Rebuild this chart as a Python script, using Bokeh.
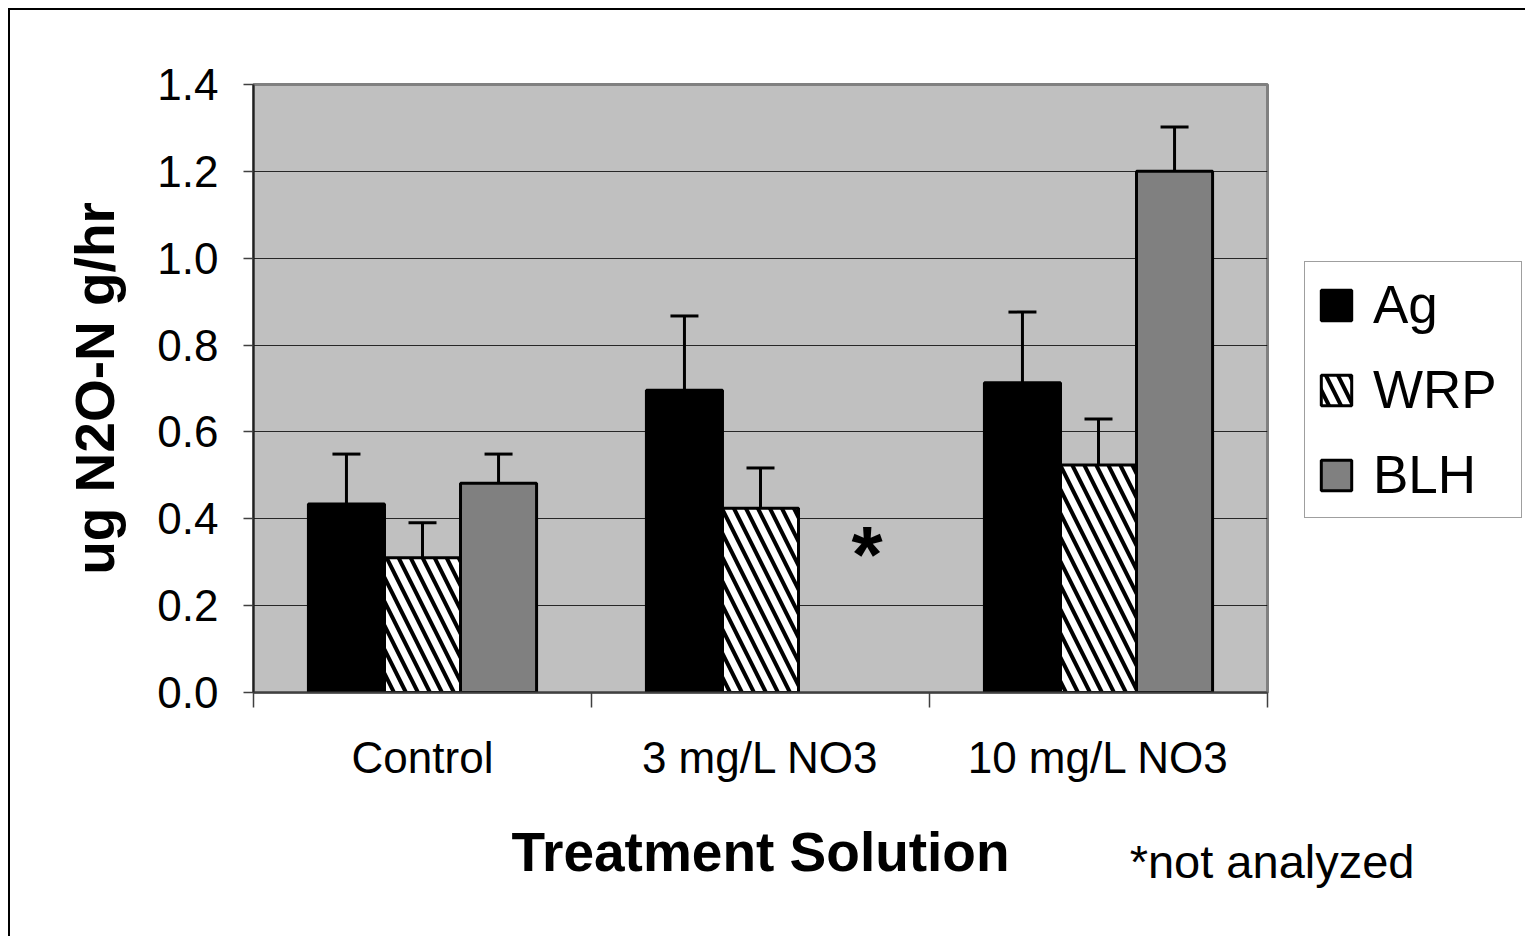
from bokeh.plotting import figure
from bokeh.models import (FixedTicker, Whisker, TeeHead, Label, Legend, LegendItem,
                          ColumnDataSource, Range1d, Title)
from bokeh.embed import file_html
from bokeh.resources import INLINE

# ---- data ----
categories = ["Control", "3 mg/L NO3", "10 mg/L NO3"]
series = ["Ag", "WRP", "BLH"]
ag = [0.434, 0.696, 0.713]
ag_err = [0.549, 0.867, 0.876]
wrp = [0.310, 0.424, 0.524]
wrp_err = [0.391, 0.517, 0.630]
blh = [0.482, None, 1.200]          # 3 mg/L BLH not analyzed
blh_err = [0.549, None, 1.302]
y_ticks = [0.0, 0.2, 0.4, 0.6, 0.8, 1.0, 1.2, 1.4]
note = "*not analyzed"

FONT = "Liberation Sans"

p = figure(frame_width=1014, frame_height=608,
           min_border_left=243, min_border_top=74, min_border_right=255, min_border_bottom=244,
           x_range=Range1d(0, 3), y_range=Range1d(0, 1.4),
           output_backend="svg", toolbar_location=None)
p.styles = {"margin-left": "8px", "margin-top": "8px",
            "border-left": "2px solid black", "border-top": "2px solid black"}
p.background_fill_color = "#c0c0c0"
p.border_fill_color = "white"
p.outline_line_color = "#808080"
p.outline_line_width = 3

offsets = [-0.225, 0.0, 0.225]
width = 0.225
styles = [
    dict(fill_color="black"),
    dict(fill_color="white", hatch_pattern="\\", hatch_color="black", hatch_scale=24, hatch_weight=4),
    dict(fill_color="#808080"),
]
vals = [ag, wrp, blh]
errs = [ag_err, wrp_err, blh_err]
renderers = []
for k in range(3):
    xs, tops, ups = [], [], []
    for i in range(len(categories)):
        if vals[k][i] is None:
            continue
        xs.append(i + 0.5 + offsets[k])
        tops.append(vals[k][i])
        ups.append(errs[k][i])
    src = ColumnDataSource(dict(x=xs, top=tops, up=ups))
    r = p.vbar(x="x", top="top", bottom=0, width=width, source=src,
               line_color="black", line_width=3, **styles[k])
    renderers.append(r)
    w = Whisker(base="x", lower="top", upper="up", source=src, dimension="height",
                line_color="black", line_width=3,
                upper_head=TeeHead(size=28, line_color="black", line_width=3), lower_head=None)
    p.add_layout(w)

# axes
p.xaxis.ticker = FixedTicker(ticks=[0.5, 1.5, 2.5], minor_ticks=[0, 1, 2, 3])
p.xaxis.major_label_overrides = {0.5: categories[0], 1.5: categories[1], 2.5: categories[2]}
p.xaxis.major_tick_out = 0
p.xaxis.major_tick_in = 0
p.xaxis.minor_tick_out = 15
p.xaxis.minor_tick_in = 0
p.xaxis.minor_tick_line_color = "#404040"
p.xaxis.minor_tick_line_width = 1.5
p.xaxis.axis_line_color = "#404040"
p.xaxis.axis_line_width = 2
p.xaxis.major_label_standoff = 25
p.xaxis.major_label_text_font = FONT
p.xaxis.major_label_text_font_size = "44px"
p.xaxis.major_label_text_color = "black"
p.xaxis.axis_label = "Treatment Solution"
p.xaxis.axis_label_text_font = FONT
p.xaxis.axis_label_text_font_size = "55px"
p.xaxis.axis_label_text_font_style = "bold"
p.xaxis.axis_label_text_color = "black"
p.xaxis.axis_label_standoff = 36

p.yaxis.ticker = FixedTicker(ticks=y_ticks)
p.yaxis.major_label_overrides = {t: f"{t:.1f}" for t in y_ticks}
p.yaxis.major_tick_out = 10
p.yaxis.major_tick_in = 0
p.yaxis.minor_tick_out = 0
p.yaxis.minor_tick_in = 0
p.yaxis.major_tick_line_color = "#404040"
p.yaxis.major_tick_line_width = 1.5
p.yaxis.axis_line_color = "#202020"
p.yaxis.axis_line_width = 2
p.yaxis.major_label_standoff = 25
p.yaxis.major_label_text_font = FONT
p.yaxis.major_label_text_font_size = "44px"
p.yaxis.major_label_text_color = "black"
p.yaxis.axis_label = "ug N2O-N g/hr"
p.yaxis.axis_label_text_font = FONT
p.yaxis.axis_label_text_font_size = "55px"
p.yaxis.axis_label_text_font_style = "bold"
p.yaxis.axis_label_text_color = "black"
p.yaxis.axis_label_standoff = 28

p.xgrid.grid_line_color = None
p.ygrid.grid_line_color = "black"
p.ygrid.grid_line_width = 1
p.ygrid.grid_line_alpha = 0.8

# legend (outside the frame, right side panel)
legend = Legend(items=[LegendItem(label=series[k], renderers=[renderers[k]]) for k in range(3)],
                location=(37, 174), orientation="vertical",
                border_line_color="#404040", border_line_width=1.5,
                background_fill_color="white", background_fill_alpha=1,
                label_text_font=FONT, label_text_font_size="53px", label_text_color="black",
                glyph_width=38, glyph_height=38, label_standoff=18, label_width=136,
                padding=12, spacing=24, margin=0)
p.add_layout(legend, "right")

# "not analyzed" markers
p.add_layout(Label(x=1.815, y=0.317, text="*", text_font=FONT, text_font_size="80px",
                   text_font_style="bold", text_color="black", text_align="center",
                   text_baseline="middle"))
p.add_layout(Title(text=note, align="right", offset=-147, standoff=-102, vertical_align="top",
                   text_font=FONT, text_font_size="47px", text_font_style="normal",
                   text_color="black"), "below")

open("out.html", "w").write(file_html(p, INLINE))
